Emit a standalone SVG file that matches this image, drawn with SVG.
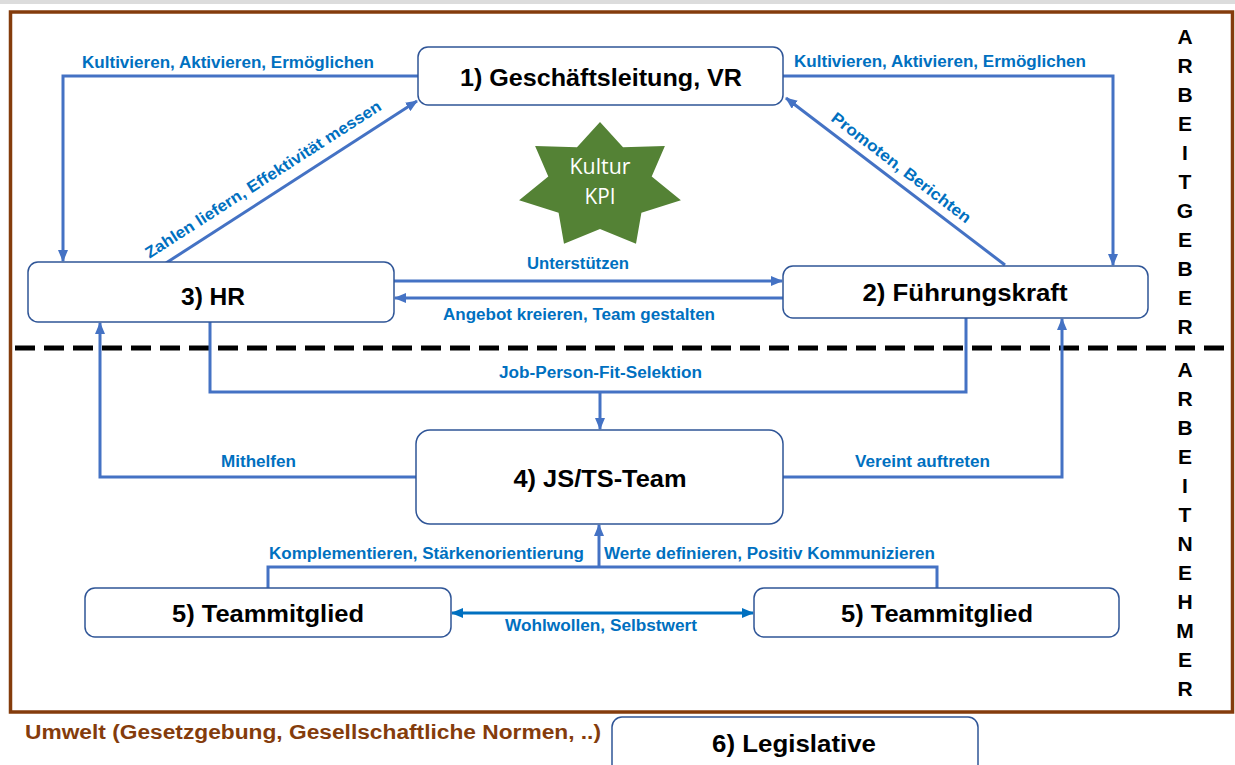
<svg xmlns="http://www.w3.org/2000/svg" width="1235" height="765" viewBox="0 0 1235 765">
<defs>
<style>
.node rect{fill:#fff;stroke:#2F5597;stroke-width:1.5}
.nt{font-family:"Liberation Sans",Arial,sans-serif;font-weight:bold;font-size:24px;fill:#000;text-anchor:middle}
.lbl{font-family:"Liberation Sans",Arial,sans-serif;font-weight:bold;font-size:16px;fill:#0070C0}
.c{fill:none;stroke:#4472C4;stroke-width:3}
.vt{font-family:"Liberation Sans",Arial,sans-serif;font-weight:bold;font-size:21px;fill:#000;text-anchor:middle}
.star{font-family:"Open Sans","Noto Sans",sans-serif;font-size:22px;fill:#fff;text-anchor:middle}
</style>
<marker id="ah" viewBox="0 0 12 10" refX="11" refY="5" markerWidth="12" markerHeight="10" markerUnits="userSpaceOnUse" orient="auto">
<path d="M0,0 L12,5 L0,10 z" fill="#4472C4"/>
</marker>
<marker id="ah2" viewBox="0 0 12 10" refX="11" refY="5" markerWidth="12" markerHeight="10" markerUnits="userSpaceOnUse" orient="auto-start-reverse">
<path d="M0,0 L12,5 L0,10 z" fill="#0070C0"/>
</marker>
</defs>
<rect x="0" y="0" width="1235" height="765" fill="#fff"/>
<rect x="0" y="0" width="1235" height="4" fill="#dcdcdc"/>
<rect x="10.5" y="12" width="1222" height="700" fill="none" stroke="#843C0C" stroke-width="3.5"/>

<line x1="15" y1="348" x2="1230" y2="348" stroke="#000" stroke-width="5" stroke-dasharray="20,9"/>

<g id="star">
<path d="M600,122 L623,147.3 L664.9,146.1 L651.7,176.4 L680.9,200.2 L641.4,212.8 L636,243.7 L600,229 L564,243.7 L558.6,212.8 L519.1,200.2 L548.3,176.4 L535.1,146.1 L577,147.3 Z" fill="#548235"/>
<text class="star" x="600" y="174" textLength="61" lengthAdjust="spacingAndGlyphs">Kultur</text>
<text class="star" x="600" y="204" textLength="31" lengthAdjust="spacingAndGlyphs">KPI</text>
</g>

<g id="connectors">
<path class="c" d="M418,76 H63 V261" marker-end="url(#ah)"/>
<path class="c" d="M783,76 H1113 V265" marker-end="url(#ah)"/>
<line class="c" x1="166" y1="263" x2="417" y2="101" marker-end="url(#ah)"/>
<line class="c" x1="1005" y1="265" x2="786" y2="98" marker-end="url(#ah)"/>
<line class="c" x1="394" y1="281" x2="782" y2="281" marker-end="url(#ah)"/>
<line class="c" x1="783" y1="298" x2="395" y2="298" marker-end="url(#ah)"/>
<path class="c" d="M210,322 V392 H966 V318"/>
<line class="c" x1="600" y1="392" x2="600" y2="429" marker-end="url(#ah)"/>
<path class="c" d="M416,477 H100 V323" marker-end="url(#ah)"/>
<path class="c" d="M783,477 H1062 V319" marker-end="url(#ah)"/>
<path class="c" d="M268,588 V567 H937 V588"/>
<line class="c" x1="599" y1="567" x2="599" y2="525" marker-end="url(#ah)"/>
<line x1="452" y1="613" x2="753" y2="613" stroke="#0070C0" stroke-width="3" marker-start="url(#ah2)" marker-end="url(#ah2)"/>

<text class="lbl" x="82" y="68" textLength="292" lengthAdjust="spacingAndGlyphs">Kultivieren, Aktivieren, Ermöglichen</text>
<text class="lbl" x="794" y="67" textLength="292" lengthAdjust="spacingAndGlyphs">Kultivieren, Aktivieren, Ermöglichen</text>
<text class="lbl" text-anchor="middle" transform="translate(266,184) rotate(-32.7)" textLength="277" lengthAdjust="spacingAndGlyphs">Zahlen liefern, Effektivität messen</text>
<text class="lbl" text-anchor="middle" transform="translate(898,172) rotate(37.4)" textLength="171" lengthAdjust="spacingAndGlyphs">Promoten, Berichten</text>
<text class="lbl" x="527" y="269" textLength="102" lengthAdjust="spacingAndGlyphs">Unterstützen</text>
<text class="lbl" x="443" y="320" textLength="272" lengthAdjust="spacingAndGlyphs">Angebot kreieren, Team gestalten</text>
<text class="lbl" x="499" y="378" textLength="203" lengthAdjust="spacingAndGlyphs">Job-Person-Fit-Selektion</text>
<text class="lbl" x="221" y="467" textLength="75" lengthAdjust="spacingAndGlyphs">Mithelfen</text>
<text class="lbl" x="855" y="467" textLength="135" lengthAdjust="spacingAndGlyphs">Vereint auftreten</text>
<text class="lbl" x="269" y="559" textLength="315" lengthAdjust="spacingAndGlyphs">Komplementieren, Stärkenorientierung</text>
<text class="lbl" x="604" y="559" textLength="331" lengthAdjust="spacingAndGlyphs">Werte definieren, Positiv Kommunizieren</text>
<text class="lbl" x="505" y="631" textLength="192" lengthAdjust="spacingAndGlyphs">Wohlwollen, Selbstwert</text>
</g>

<g id="n1" class="node"><rect x="418" y="47" width="365" height="58" rx="10"/><text class="nt" x="601" y="86" textLength="282" lengthAdjust="spacingAndGlyphs">1) Geschäftsleitung, VR</text></g>
<g id="n3" class="node"><rect x="28" y="262" width="366" height="60" rx="10"/><text class="nt" x="213" y="305" textLength="64" lengthAdjust="spacingAndGlyphs">3) HR</text></g>
<g id="n2" class="node"><rect x="783" y="266" width="365" height="52" rx="10"/><text class="nt" x="965" y="301" textLength="205" lengthAdjust="spacingAndGlyphs">2) Führungskraft</text></g>
<g id="n4" class="node"><rect x="416" y="430" width="367" height="94" rx="14"/><text class="nt" x="600" y="487" textLength="173" lengthAdjust="spacingAndGlyphs">4) JS/TS-Team</text></g>
<g id="n5a" class="node"><rect x="85" y="588" width="366" height="49" rx="10"/><text class="nt" x="268" y="622" textLength="192" lengthAdjust="spacingAndGlyphs">5) Teammitglied</text></g>
<g id="n5b" class="node"><rect x="754" y="588" width="365" height="49" rx="10"/><text class="nt" x="937" y="622" textLength="192" lengthAdjust="spacingAndGlyphs">5) Teammitglied</text></g>
<g id="n6" class="node"><rect x="612" y="717" width="366" height="60" rx="10"/><text class="nt" x="794" y="752" textLength="164" lengthAdjust="spacingAndGlyphs">6) Legislative</text></g>

<g id="arbeitgeber">
<text class="vt" x="1185" y="44">A</text><text class="vt" x="1185" y="73">R</text><text class="vt" x="1185" y="102">B</text><text class="vt" x="1185" y="131">E</text><text class="vt" x="1185" y="160">I</text><text class="vt" x="1185" y="189">T</text><text class="vt" x="1185" y="218">G</text><text class="vt" x="1185" y="247">E</text><text class="vt" x="1185" y="276">B</text><text class="vt" x="1185" y="305">E</text><text class="vt" x="1185" y="334">R</text>
</g>
<g id="arbeitnehmer">
<text class="vt" x="1185" y="377">A</text><text class="vt" x="1185" y="406">R</text><text class="vt" x="1185" y="435">B</text><text class="vt" x="1185" y="464">E</text><text class="vt" x="1185" y="493">I</text><text class="vt" x="1185" y="522">T</text><text class="vt" x="1185" y="551">N</text><text class="vt" x="1185" y="580">E</text><text class="vt" x="1185" y="609">H</text><text class="vt" x="1185" y="638">M</text><text class="vt" x="1185" y="667">E</text><text class="vt" x="1185" y="696">R</text>
</g>
<text x="25" y="739" font-family="'Liberation Sans',Arial,sans-serif" font-weight="bold" font-size="20" fill="#843C0C" textLength="576" lengthAdjust="spacingAndGlyphs">Umwelt (Gesetzgebung, Gesellschaftliche Normen, ..)</text>
</svg>
